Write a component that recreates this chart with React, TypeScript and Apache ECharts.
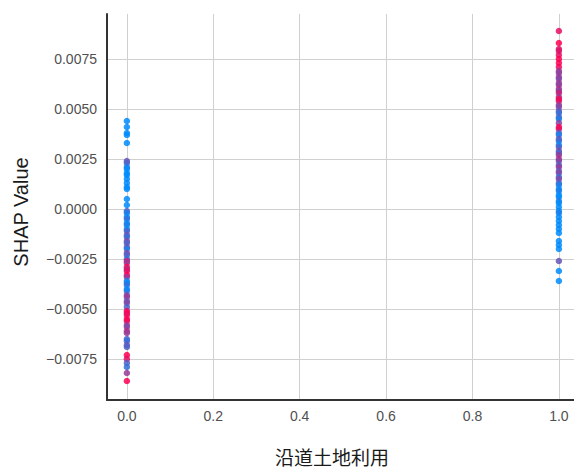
import React, { useEffect, useRef } from "react";
import * as echarts from "echarts";

// Feature value 0 group: SHAP values and interaction colour value (0 = blue, 1 = red)
const shapAtZero = [
  0.0044, 0.0041, 0.0038, 0.0037, 0.0033, 0.0024, 0.0023, 0.0021, 0.002, 0.0018,
  0.0017, 0.0015, 0.0013, 0.0011, 0.001, 0.0005, 0.0002, -0.0001, -0.0002, -0.0004,
  -0.0005, -0.0007, -0.0008, -0.001, -0.0011, -0.0013, -0.0014, -0.0016, -0.0017, -0.0019,
  -0.002, -0.0022, -0.0023, -0.0025, -0.0026, -0.0027, -0.0029, -0.003, -0.0031, -0.0033,
  -0.0034, -0.0036, -0.0037, -0.0038, -0.004, -0.0041, -0.0043, -0.0044, -0.0046, -0.0047,
  -0.0049, -0.0051, -0.0052, -0.0053, -0.0055, -0.0056, -0.0058, -0.0059, -0.0061, -0.0062,
  -0.0065, -0.0066, -0.0068, -0.0069, -0.0073, -0.0075, -0.0077, -0.0079, -0.0082, -0.0086,
];
const colorAtZero = [
  0, 0, 0, 0, 0, 0.4, 0.3, 0.1, 0, 0,
  0, 0, 0, 0, 0, 0, 0, 0.3, 0.1, 0,
  0.2, 0, 0.1, 0, 0.3, 0.4, 0.2, 0.5, 0.3, 0.4,
  0.1, 0.5, 0.3, 0.2, 0.8, 0.6, 1, 0.7, 0.9, 1,
  0.6, 0.1, 0, 0.2, 0, 0.1, 0.5, 0.6, 0.4, 0.5,
  0.3, 0.9, 1, 0.9, 1, 0.95, 0.6, 0.5, 0.7, 0.6,
  0.3, 0.2, 0.4, 0.3, 1, 0.9, 0.3, 0.2, 0.6, 1,
];

// Feature value 1 group
const shapAtOne = [
  0.0089, 0.0083, 0.008, 0.0079, 0.0077, 0.0075, 0.0073, 0.0071, 0.0069, 0.0068,
  0.0066, 0.0065, 0.0063, 0.0062, 0.006, 0.0059, 0.0058, 0.0056, 0.0055, 0.0054,
  0.0052, 0.0051, 0.0049, 0.0048, 0.0046, 0.0045, 0.0043, 0.0041, 0.004, 0.0038,
  0.0037, 0.0035, 0.0034, 0.0032, 0.0031, 0.0029, 0.0028, 0.0027, 0.0025, 0.0024,
  0.0022, 0.0021, 0.0019, 0.0018, 0.0016, 0.0015, 0.0013, 0.0012, 0.001, 0.0009,
  0.0007, 0.0006, 0.0004, 0.0003, 0.0001, -0.0001, -0.0002, -0.0004, -0.0006, -0.0008,
  -0.001, -0.0012, -0.0016, -0.0018, -0.002, -0.0026, -0.0031, -0.0036,
];
const colorAtOne = [
  0.9, 1, 0.9, 0.85, 0.9, 1, 1, 0.95, 0.6, 0.55,
  0.6, 0.5, 0.6, 0.55, 0.7, 0.5, 0.8, 0.6, 1, 0.9,
  0.6, 0.5, 0.4, 0.2, 0.3, 0.1, 0.5, 1, 0.9, 0.3,
  0.1, 0.4, 0.2, 0, 0.3, 0.5, 0.2, 0.6, 0.7, 0.5,
  0.3, 0.6, 0.4, 0.5, 0.2, 0.5, 0.3, 0.1, 0, 0.1,
  0, 0, 0.1, 0, 0, 0, 0.1, 0, 0, 0,
  0, 0, 0, 0, 0, 0.4, 0, 0,
];

const xTicks = [0, 0.2, 0.4, 0.6, 0.8, 1.0];
const yTicks = [-0.0075, -0.005, -0.0025, 0, 0.0025, 0.005, 0.0075];
const xName = "沿道土地利用";
const yName = "SHAP Value";

export default function App() {
  const ref = useRef<HTMLDivElement>(null);
  useEffect(() => {
    if (!ref.current) return;
    const chart = echarts.init(ref.current, undefined, { renderer: "svg" });
    const points: number[][] = [];
    shapAtZero.forEach((v, i) => points.push([0, v, colorAtZero[i]]));
    shapAtOne.forEach((v, i) => points.push([1, v, colorAtOne[i]]));
    const labelStyle = {
      color: "#505050",
      fontSize: 14,
      fontFamily: "Liberation Sans, Arial, sans-serif",
    };
    chart.setOption({
      animation: false,
      backgroundColor: "#ffffff",
      grid: { left: 107, right: 0, top: 14, bottom: 70, containLabel: false },
      xAxis: {
        type: "value",
        min: -0.046,
        max: 1.035,
        axisLine: { show: true, onZero: false, lineStyle: { color: "#333333", width: 2 } },
        axisTick: { show: false, customValues: xTicks },
        axisLabel: {
          ...labelStyle,
          margin: 9,
          customValues: xTicks,
          formatter: (v: number) => v.toFixed(1),
        },
        splitLine: { show: true, lineStyle: { color: "#d0d0d0", width: 1 } },
      },
      yAxis: {
        type: "value",
        min: -0.00955,
        max: 0.00975,
        axisLine: { show: true, onZero: false, lineStyle: { color: "#333333", width: 2 } },
        axisTick: { show: false, customValues: yTicks },
        axisLabel: {
          ...labelStyle,
          margin: 10,
          customValues: yTicks,
          formatter: (v: number) => v.toFixed(4).replace("-", "\u2212"),
        },
        splitLine: { show: true, lineStyle: { color: "#d0d0d0", width: 1 } },
      },
      visualMap: {
        show: false,
        type: "continuous",
        min: 0,
        max: 1,
        dimension: 2,
        seriesIndex: 0,
        inRange: { color: ["#008bfb", "#ff0052"] },
      },
      graphic: [
        {
          type: "text",
          x: 21,
          y: 212,
          rotation: Math.PI / 2,
          style: {
            text: yName,
            fill: "#1a1a1a",
            font: "20px 'Liberation Sans', Arial, sans-serif",
            textAlign: "center",
            textVerticalAlign: "middle",
          },
        },
        {
          type: "text",
          x: 332,
          y: 456,
          style: {
            text: xName,
            fill: "#1a1a1a",
            font: "19px 'Noto Sans CJK SC', sans-serif",
            textAlign: "center",
            textVerticalAlign: "middle",
          },
        },
      ],
      series: [
        {
          type: "scatter",
          data: points,
          symbolSize: 6.5,
          itemStyle: { opacity: 0.85 },
        },
      ],
    });
    return () => chart.dispose();
  }, []);
  return (
    <div
      ref={ref}
      style={{ position: "fixed", left: 0, top: 0, width: 574, height: 470 }}
    />
  );
}
